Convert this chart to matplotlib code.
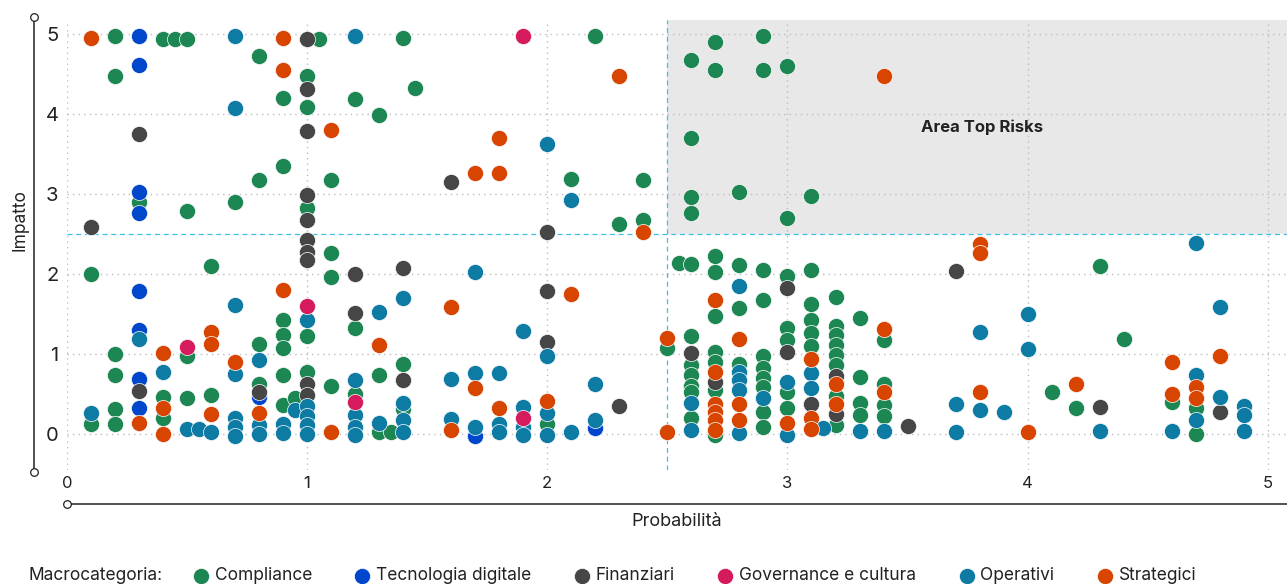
import matplotlib
matplotlib.use('Agg')
from matplotlib import pyplot as plt
from matplotlib.lines import Line2D
from matplotlib.patches import Rectangle

plt.rcParams['font.family'] = ['Inter', 'DejaVu Sans']

# --- data (x = Probabilita, y = Impatto) ---
compliance_x = [0.1, 0.1, 0.2, 0.2, 0.2, 0.2, 0.2, 0.2, 0.3, 0.4, 0.4, 0.4, 0.45,
                0.5, 0.5, 0.5, 0.5, 0.6, 0.6, 0.7, 0.8, 0.8, 0.8, 0.8,
                0.9, 0.9, 0.9, 0.9, 0.9, 0.9, 0.9, 0.95, 1.0, 1.0, 1.0, 1.0, 1.0, 1.05,
                1.1, 1.1, 1.1, 1.1, 1.2, 1.2, 1.2, 1.3, 1.3, 1.3, 1.35, 1.4, 1.4, 1.4, 1.45,
                2.0, 2.1, 2.2, 2.3, 2.4, 2.4, 2.5, 2.55,
                2.6, 2.6, 2.6, 2.6, 2.6, 2.6, 2.6, 2.6, 2.6, 2.6, 2.6,
                2.7, 2.7, 2.7, 2.7, 2.7, 2.7, 2.7, 2.7, 2.7,
                2.8, 2.8, 2.8, 2.8,
                2.9, 2.9, 2.9, 2.9, 2.9, 2.9, 2.9, 2.9, 2.9, 2.9,
                3.0, 3.0, 3.0, 3.0, 3.0, 3.0, 3.0,
                3.1, 3.1, 3.1, 3.1, 3.1, 3.1,
                3.2, 3.2, 3.2, 3.2, 3.2, 3.2, 3.2, 3.2,
                3.3, 3.3, 3.3, 3.3, 3.4, 3.4, 3.4, 3.4,
                4.1, 4.2, 4.3, 4.4, 4.6, 4.7, 4.7]
compliance_y = [2.0, 0.13, 4.98, 4.48, 1.0, 0.74, 0.31, 0.12, 2.9, 4.94, 0.46, 0.2, 4.94,
                4.94, 2.79, 0.97, 0.45, 2.1, 0.49, 2.9, 4.72, 3.17, 1.13, 0.63,
                4.2, 3.35, 1.42, 1.24, 1.07, 0.74, 0.36, 0.45, 4.48, 4.09, 2.82, 1.23, 0.78, 4.94,
                3.18, 2.26, 1.96, 0.6, 4.19, 1.32, 0.5, 3.99, 0.74, 0.02, 0.02, 4.95, 0.875, 0.31, 4.32,
                0.13, 3.19, 4.97, 2.62, 3.18, 2.67, 1.08, 2.14,
                4.67, 3.7, 2.96, 2.76, 2.12, 1.22, 0.86, 0.74, 0.6, 0.52, 0.2,
                4.9, 4.55, 2.22, 2.02, 1.47, 1.02, 0.9, 0.55, -0.01,
                3.02, 2.11, 1.57, 0.875,
                4.97, 4.55, 2.05, 1.68, 0.97, 0.82, 0.7, 0.59, 0.27, 0.09,
                4.6, 2.7, 1.97, 1.32, 1.17, 0.53, 0.32,
                2.97, 2.05, 1.62, 1.42, 1.26, 1.1,
                1.71, 1.35, 1.24, 1.11, 0.99, 0.86, 0.47, 0.11,
                1.45, 0.71, 0.39, 0.24, 1.175, 0.63, 0.36, 0.22,
                0.52, 0.32, 2.1, 1.19, 0.4, 0.32, 0.0]

tecnologia_x = [0.3, 0.3, 0.3, 0.3, 0.3, 0.3, 0.3, 0.3, 0.8, 1.7, 2.2]
tecnologia_y = [4.98, 4.61, 3.03, 2.76, 1.79, 1.3, 0.69, 0.33, 0.46, -0.02, 0.08]

finanziari_x = [0.1, 0.3, 0.3, 0.8, 1.0, 1.0, 1.0, 1.0, 1.0, 1.0, 1.0, 1.0, 1.0, 1.0,
                1.2, 1.2, 1.4, 1.4, 1.6, 2.0, 2.0, 2.0, 2.3, 2.6, 2.7, 3.0, 3.0,
                3.1, 3.2, 3.2, 3.5, 3.7, 4.3, 4.8]
finanziari_y = [2.59, 3.75, 0.54, 0.52, 4.94, 4.31, 3.79, 2.99, 2.68, 2.42, 2.27, 2.17, 0.63, 0.49,
                2.0, 1.51, 2.07, 0.68, 3.15, 2.52, 1.79, 1.15, 0.35, 1.01, 0.65, 1.82, 1.02,
                0.37, 0.72, 0.25, 0.1, 2.04, 0.34, 0.27]

governance_x = [0.5, 1.0, 1.2, 1.9, 1.9]
governance_y = [1.09, 1.6, 0.4, 4.97, 0.2]

operativi_x = [0.1, 0.3, 0.4, 0.5, 0.55, 0.6, 0.7, 0.7, 0.7, 0.7, 0.7, 0.7, 0.7,
               0.8, 0.8, 0.8, 0.9, 0.9, 0.95, 1.0, 1.0, 1.0, 1.0, 1.0,
               1.2, 1.2, 1.2, 1.2, 1.2, 1.3, 1.3, 1.4, 1.4, 1.4, 1.4,
               1.6, 1.6, 1.7, 1.7, 1.7, 1.8, 1.8, 1.8, 1.9, 1.9, 1.9, 1.9,
               2.0, 2.0, 2.0, 2.0, 2.1, 2.1, 2.2, 2.2, 2.6, 2.6,
               2.8, 2.8, 2.8, 2.8, 2.8, 2.9, 3.0, 3.0, 3.1, 3.1, 3.15, 3.3, 3.4,
               3.7, 3.7, 3.8, 3.8, 3.9, 4.0, 4.0, 4.3, 4.6,
               4.7, 4.7, 4.7, 4.8, 4.8, 4.9, 4.9, 4.9]
operativi_y = [0.26, 1.19, 0.78, 0.06, 0.06, 0.02, 4.97, 4.08, 1.61, 0.75, 0.2, 0.09, -0.02,
               0.92, 0.11, 0.0, 0.13, 0.01, 0.3, 1.42, 0.35, 0.22, 0.11, 0.0,
               4.97, 0.67, 0.24, 0.09, -0.01, 1.52, 0.14, 1.7, 0.39, 0.18, 0.03,
               0.69, 0.19, 2.02, 0.76, 0.09, 0.76, 0.13, 0.02, 1.29, 0.34, 0.09, -0.01,
               3.63, 0.97, 0.26, -0.01, 2.93, 0.03, 0.62, 0.17, 0.39, 0.05,
               1.85, 0.78, 0.675, 0.55, 0.01, 0.45, 0.65, -0.01, 0.76, 0.57, 0.08, 0.04, 0.04,
               0.37, 0.03, 1.27, 0.3, 0.28, 1.5, 1.06, 0.04, 0.04,
               2.39, 0.74, 0.17, 1.59, 0.46, 0.35, 0.24, 0.04]

strategici_x = [0.1, 0.3, 0.4, 0.4, 0.4, 0.6, 0.6, 0.6, 0.7, 0.8, 0.9, 0.9, 0.9,
                1.1, 1.1, 1.3, 1.6, 1.6, 1.7, 1.7, 1.8, 1.8, 1.8, 2.0, 2.1, 2.3, 2.4,
                2.5, 2.5, 2.7, 2.7, 2.7, 2.7, 2.7, 2.7, 2.8, 2.8, 2.8, 3.0,
                3.1, 3.1, 3.1, 3.2, 3.2, 3.4, 3.4, 3.4, 3.8, 3.8, 3.8,
                4.0, 4.2, 4.6, 4.6, 4.7, 4.7, 4.8]
strategici_y = [4.95, 0.14, 1.01, 0.33, 0.0, 1.28, 1.13, 0.25, 0.9, 0.26, 4.95, 4.55, 1.8,
                3.8, 0.02, 1.11, 1.59, 0.05, 3.26, 0.58, 3.7, 3.26, 0.32, 0.41, 1.75, 4.48, 2.53,
                1.2, 0.03, 1.68, 0.77, 0.38, 0.28, 0.18, 0.05, 1.19, 0.38, 0.18, 0.14,
                0.94, 0.2, 0.06, 0.625, 0.37, 4.48, 1.31, 0.53, 2.38, 2.26, 0.52,
                0.03, 0.63, 0.9, 0.5, 0.59, 0.45, 0.97]

series = [
    ('Compliance', compliance_x, compliance_y, '#1d8754'),
    ('Tecnologia digitale', tecnologia_x, tecnologia_y, '#0047cc'),
    ('Finanziari', finanziari_x, finanziari_y, '#464646'),
    ('Governance e cultura', governance_x, governance_y, '#d61a5e'),
    ('Operativi', operativi_x, operativi_y, '#0e7ba4'),
    ('Strategici', strategici_x, strategici_y, '#d84500'),
]
draw_order = [0, 1, 2, 4, 3, 5]

fig = plt.figure(figsize=(12.87, 5.84), dpi=100)
W, H = 1287.0, 584.0
ax = fig.add_axes([67 / W, 1 - 470 / H, 1220 / W, 450 / H])

ax.set_xlim(0, 5.08)
ax.set_ylim(-0.45, 5.175)

for s in ax.spines.values():
    s.set_visible(False)

ax.set_xticks([0, 1, 2, 3, 4, 5])
ax.set_yticks([0, 1, 2, 3, 4, 5])
ax.tick_params(axis='x', length=0, pad=4, labelsize=12, labelcolor='#222222')
ax.tick_params(axis='y', length=0, pad=6, labelsize=14.5, labelcolor='#222222')
ax.grid(True, linestyle=(0, (1, 3)), color='#bdbdbd', linewidth=1.0)
ax.set_axisbelow(True)

# top risks area + thresholds
ax.add_patch(Rectangle((2.5, 2.5), 2.58, 2.675, facecolor='#e8e8e8', edgecolor='none', zorder=0.2))
ax.axvline(2.5, color='#3fc0ea', linestyle=(0, (4, 3)), linewidth=0.9, zorder=0.6)
ax.axhline(2.5, color='#3fc0ea', linestyle=(0, (4, 3)), linewidth=0.9, zorder=0.6)
ax.text(3.81, 3.84, 'Area Top Risks', fontsize=12, fontweight='bold', color='#222222',
        ha='center', va='center')

handles = {}
for i in draw_order:
    name, xs, ys, col = series[i]
    handles[i] = ax.scatter(xs, ys, s=135, color=col, edgecolor='white', linewidth=0.5,
                            label=name, zorder=3, clip_on=False)

ax.set_xlabel('Probabilità', fontsize=13, color='#222222', labelpad=16)
ax.set_ylabel('Impatto', fontsize=12.5, color='#222222')
ax.yaxis.set_label_coords(-38 / 1220, (470 - 220) / 450)

# detached axis lines with round end caps
fig.add_artist(Line2D([34 / W, 34 / W], [1 - 17 / H, 1 - 472 / H], color='#222222', linewidth=1.1,
                      marker='o', markersize=5.5, markerfacecolor='white', markeredgecolor='#222222',
                      markeredgewidth=0.9))
fig.add_artist(Line2D([67 / W, 1.0], [1 - 504 / H, 1 - 504 / H], color='#222222', linewidth=1.1,
                      marker='o', markersize=5.5, markerfacecolor='white', markeredgecolor='#222222',
                      markeredgewidth=0.9, markevery=[0]))

fig.text(28 / W, 1 - 576 / H, 'Macrocategoria:', fontsize=12.5, color='#222222', va='center')
fig.legend(handles=[handles[i] for i in range(6)], loc='center left',
           bbox_to_anchor=(193 / W, 1 - 576 / H), ncol=6, frameon=False, fontsize=12.5,
           handlelength=0.9, handletextpad=0.35, columnspacing=2.45, borderpad=0, borderaxespad=0,
           labelcolor='#222222')

fig.savefig('out.png', dpi=100)
